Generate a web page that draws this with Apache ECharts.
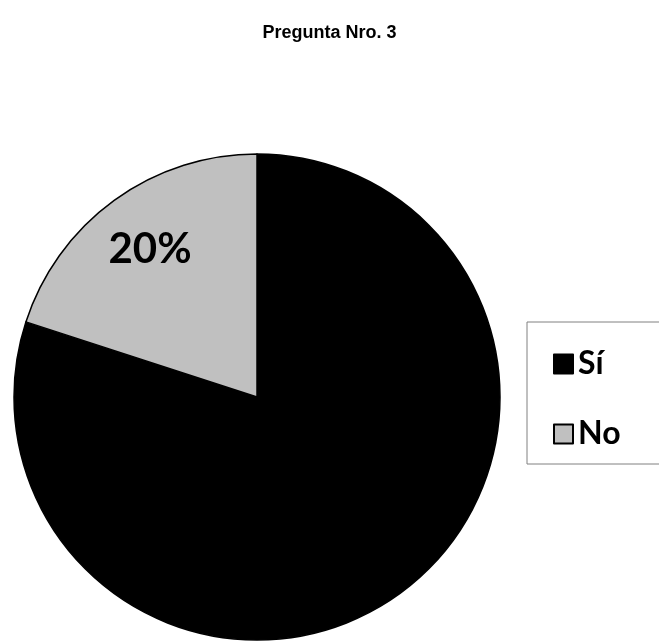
<!DOCTYPE html>
<html lang="es">
<head>
    <meta charset="UTF-8">
    <title>Pregunta Nro. 3</title>
    <script src="https://cdn.jsdelivr.net/npm/echarts@6/dist/echarts.min.js"></script>
    <style>
        body { margin: 0; background: #fff; }
    </style>
</head>
<body>
    <div id="main" style="width: 659px;height:641px;"></div>
    <script type="text/javascript">
        // data
        const categories = ['Sí', 'No'];
        const values = [80, 20];
        const colors = ['#000000', '#c0c0c0'];
        const showLabel = [false, true];

        let myChart = echarts.init(document.getElementById('main'));

        const pieData = categories.map((name, i) => ({
            name: name,
            value: values[i],
            itemStyle: { color: colors[i] }
        }));

        // second copy of the pie, only for placing the percent label further out
        const labelData = categories.map((name, i) => ({
            name: name,
            value: values[i],
            label: { show: showLabel[i] }
        }));

        let options = {
            animation: false,
            title: {
                text: 'Pregunta Nro. 3',
                left: 'center',
                top: 19,
                textStyle: { fontFamily: 'Liberation Sans', fontWeight: 'bold', fontSize: 18, color: '#000' }
            },
            legend: {
                orient: 'vertical',
                left: 527,
                top: 322,
                data: categories,
                icon: 'rect',
                itemWidth: 19,
                itemHeight: 19,
                itemGap: 38,
                borderColor: '#808080',
                borderWidth: 1,
                padding: [26, 200, 14, 26],
                textStyle: { fontFamily: 'Lato', fontWeight: 'bold', fontSize: 32, color: '#000' },
                selectedMode: false
            },
            series: [
                {
                    type: 'pie',
                    center: [257, 397],
                    radius: [0, 243],
                    startAngle: 90,
                    clockwise: true,
                    data: pieData,
                    itemStyle: { borderColor: '#000', borderWidth: 1.5 },
                    label: { show: false },
                    labelLine: { show: false },
                    emphasis: { disabled: true }
                },
                {
                    type: 'pie',
                    center: [257, 397],
                    radius: [115, 243],
                    startAngle: 90,
                    clockwise: true,
                    silent: true,
                    data: labelData,
                    itemStyle: { color: 'rgba(0,0,0,0)', borderWidth: 0 },
                    label: {
                        position: 'inside',
                        formatter: '{d}%',
                        fontFamily: 'Lato',
                        fontWeight: 'bold',
                        fontSize: 42,
                        color: '#000'
                    },
                    labelLine: { show: false },
                    emphasis: { disabled: true }
                }
            ]
        };
        myChart.setOption(options);
    </script>
</body>
</html>
